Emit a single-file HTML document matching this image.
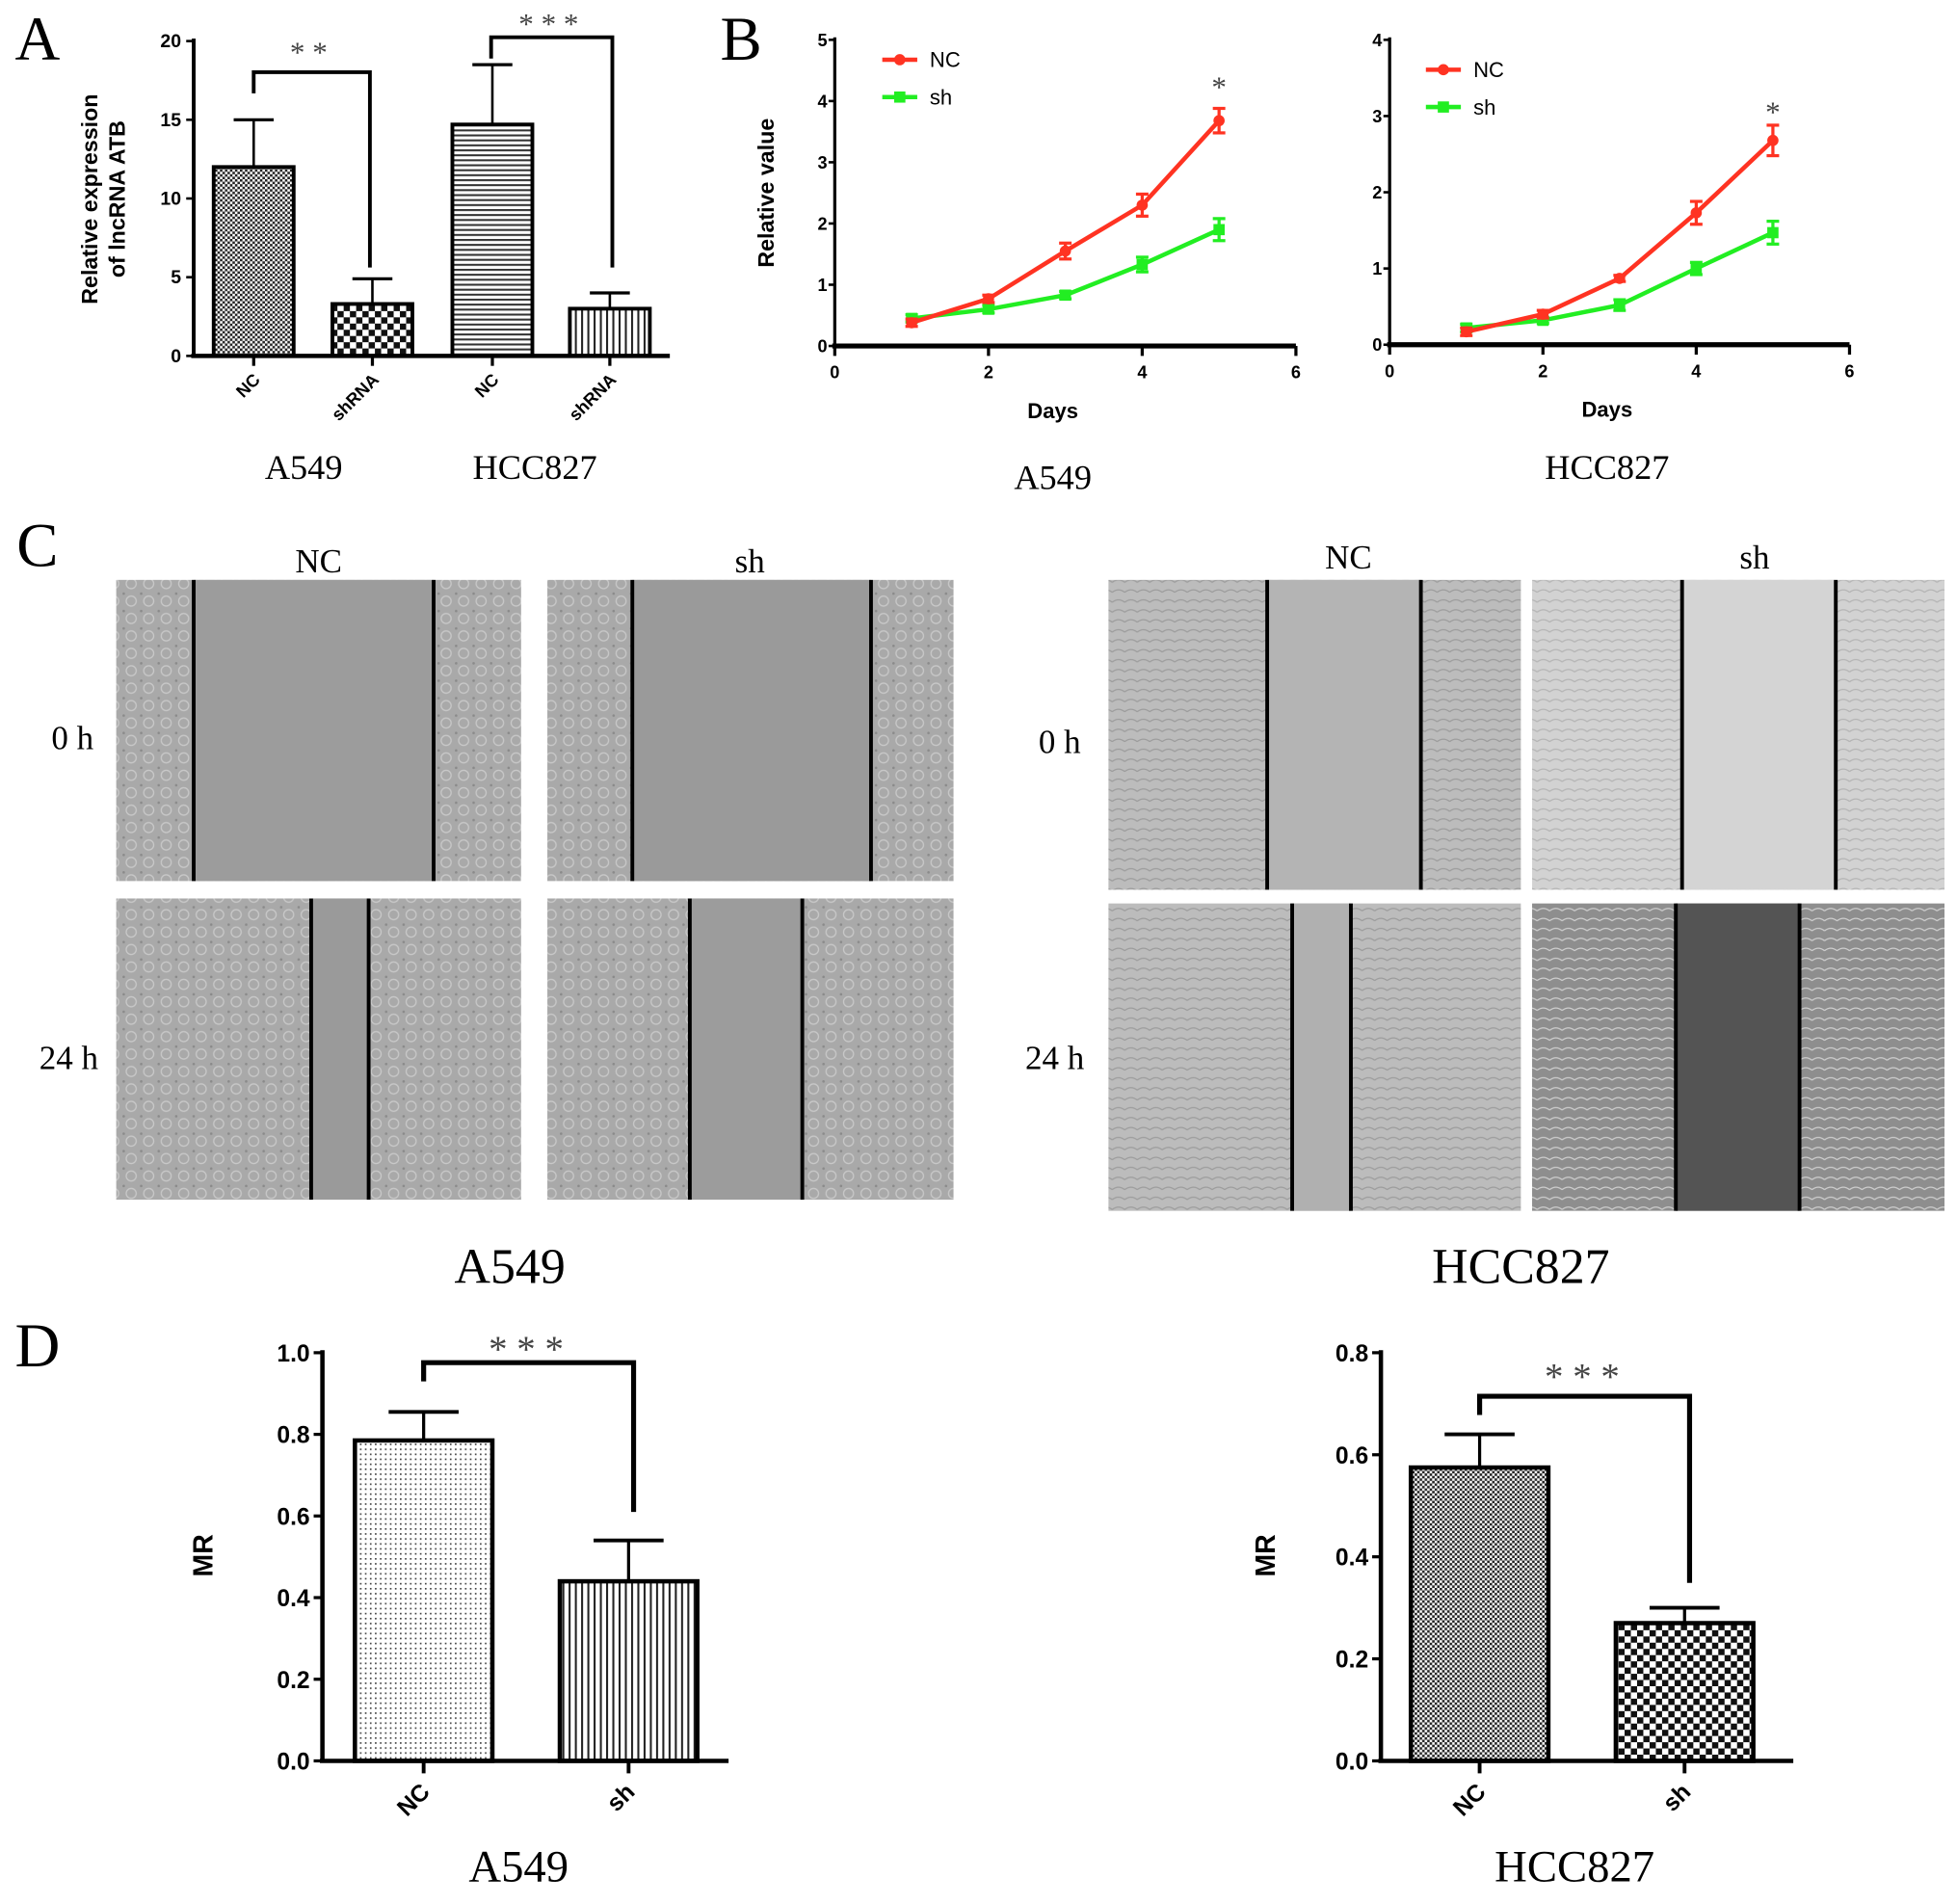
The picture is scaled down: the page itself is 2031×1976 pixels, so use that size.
<!DOCTYPE html>
<html><head><meta charset="utf-8"><style>
html,body{margin:0;padding:0;background:#fff;}
svg{display:block;}
text{font-family:"Liberation Sans",sans-serif;}
.serif{font-family:"Liberation Serif",serif;}
</style></head><body>
<svg id="fig" width="2031" height="1976" viewBox="0 0 1566 1530" preserveAspectRatio="none" xmlns="http://www.w3.org/2000/svg">
<defs>
<pattern id="pDense" width="4" height="4" patternUnits="userSpaceOnUse"><rect width="4" height="4" fill="#fff"/><rect width="2" height="2" fill="#222"/><rect x="2" y="2" width="2" height="2" fill="#222"/></pattern>
<pattern id="pCoarse" width="10" height="10" patternUnits="userSpaceOnUse"><rect width="10" height="10" fill="#fff"/><rect width="5" height="5" fill="#111"/><rect x="5" y="5" width="5" height="5" fill="#111"/></pattern>
<pattern id="pHoriz" width="4" height="4" patternUnits="userSpaceOnUse"><rect width="4" height="4" fill="#fff"/><rect width="4" height="1.6" fill="#333"/></pattern>
<pattern id="pVert" width="5" height="5" patternUnits="userSpaceOnUse"><rect width="5" height="5" fill="#fff"/><rect width="1.6" height="5" fill="#222"/></pattern>
<pattern id="pDots" width="4" height="4" patternUnits="userSpaceOnUse"><rect width="4" height="4" fill="#fff"/><rect width="1.3" height="1.3" fill="#444"/></pattern>
<pattern id="cellsA" width="14" height="14" patternUnits="userSpaceOnUse"><rect width="14" height="14" fill="#a9a9a9"/><circle cx="7" cy="7" r="4" fill="none" stroke="#c8c8c8" stroke-width="1"/><circle cx="1" cy="1" r="1" fill="#8a8a8a"/></pattern>
<pattern id="cellsH" width="10" height="8" patternUnits="userSpaceOnUse"><rect width="10" height="8" fill="#bcbcbc"/><path d="M0 4 Q5 0 10 4" fill="none" stroke="#9c9c9c" stroke-width="1"/></pattern>
<pattern id="cellsH2" width="10" height="8" patternUnits="userSpaceOnUse"><rect width="10" height="8" fill="#d2d2d2"/><path d="M0 4 Q5 0 10 4" fill="none" stroke="#b4b4b4" stroke-width="1"/></pattern>
<pattern id="cellsH3" width="10" height="8" patternUnits="userSpaceOnUse"><rect width="10" height="8" fill="#8e8e8e"/><path d="M0 4 Q5 0 10 4" fill="none" stroke="#cfcfcf" stroke-width="1"/></pattern>
</defs>
<g id="root"></g>
</svg>
<script>
// Panel A data
const aCats = ["NC","shRNA","NC","shRNA"];
const aVals = [12, 3.3, 14.7, 3.0];
const aErrs = [3.0, 1.6, 3.8, 1.0];
const aTicks = [0,5,10,15,20];
// Panel B data
const bDays = [1,2,3,4,5];
const bTicksX = [0,2,4,6];
const bA549NC = [0.38,0.77,1.55,2.3,3.68];
const bA549NCerr = [0.06,0.06,0.13,0.18,0.2];
const bA549sh = [0.45,0.6,0.83,1.33,1.9];
const bA549sherr = [0.06,0.06,0.06,0.12,0.18];
const bA549Ticks = [0,1,2,3,4,5];
const bHCCNC = [0.17,0.4,0.87,1.73,2.68];
const bHCCNCerr = [0.05,0.05,0.04,0.15,0.2];
const bHCCsh = [0.22,0.32,0.52,1.0,1.47];
const bHCCsherr = [0.05,0.04,0.07,0.08,0.15];
const bHCCTicks = [0,1,2,3,4];
// Panel D data
const dCats = ["NC","sh"];
const dA549Vals = [0.785,0.44];
const dA549Errs = [0.07,0.10];
const dA549Ticks = [0.0,0.2,0.4,0.6,0.8,1.0];
const dHCCVals = [0.575,0.27];
const dHCCErrs = [0.065,0.03];
const dHCCTicks = [0.0,0.2,0.4,0.6,0.8];

const NS="http://www.w3.org/2000/svg";
const root=document.getElementById('root');
function mk(tag,attrs,parent){const e=document.createElementNS(NS,tag);for(const k in attrs)e.setAttribute(k,attrs[k]);(parent||root).appendChild(e);return e;}
function txt(s,x,y,size,attrs,parent){const t=mk('text',Object.assign({x:x,y:y,'font-size':size,'text-anchor':'middle'},attrs||{}),parent);t.textContent=s;return t;}
function line(x1,y1,x2,y2,w,c,parent){return mk('line',{x1:x1,y1:y1,x2:x2,y2:y2,stroke:c||'#000','stroke-width':w||2},parent);}

// ---------- Panel A ----------
(function(){
  const g=mk('g',{});
  
  
  const x0=155,x1=536,yb=286,yt=33,max=20;
  const y=v=>yb-(v/max)*(yb-yt);
  const centers=[203,298,394,488];
  const fills=['url(#pDense)','url(#pCoarse)','url(#pHoriz)','url(#pVert)'];
  aTicks.forEach(t=>{line(x0-6,y(t),x0,y(t),2,'#000',g);const l=txt(String(t),x0-10,y(t)+5,15,{'text-anchor':'end','font-weight':'bold'},g);});
  aVals.forEach((v,i)=>{
    const cx=centers[i];
    line(cx,y(v),cx,y(v+aErrs[i]),2,'#000',g);
    line(cx-16,y(v+aErrs[i]),cx+16,y(v+aErrs[i]),2.5,'#000',g);
    const r=mk('rect',{x:cx-32,y:y(v),width:64,height:yb-y(v),fill:fills[i],stroke:'#000','stroke-width':3},g);
    
    line(cx,yb,cx,yb+8,2.5,'#000',g);
    const l=txt(aCats[i],cx+6,yb+20,14,{'text-anchor':'end','font-weight':'bold',transform:`rotate(-45 ${cx+6} ${yb+20})`},g);
    
  });
  line(x0,yt-2,x0,yb+1,3,'#000',g);
  line(x0-2,yb,x1,yb,3.5,'#000',g);
  mk('path',{d:`M203 75 V58 H296 V215`,fill:'none',stroke:'#000','stroke-width':3},g);
  mk('path',{d:`M393 47 V30 H490 V215`,fill:'none',stroke:'#000','stroke-width':3},g);
  txt('* *',247,50,24,{'class':'serif',fill:'#444'},g);
  txt('* * *',439,27,24,{'class':'serif',fill:'#444'},g);
  const yl=mk('text',{transform:'translate(78 160) rotate(-90)','font-size':18,'font-weight':'bold','text-anchor':'middle'},g);
  
  const ts1=mk('tspan',{x:0,dy:0},yl);ts1.textContent='Relative expression';
  const ts2=mk('tspan',{x:0,dy:22},yl);ts2.textContent='of lncRNA ATB';
  const c1=txt('A549',243,385,28,{'class':'serif'},g);
  const c2=txt('HCC827',428,385,28,{'class':'serif'},g);
})();

// ---------- Panel B ----------
function lineChart(name,x0,x1,yb,yt,ticks,nc,ncErr,sh,shErr,leg,star,title,titleY){
  const g=mk('g',{});
  
  
  const max=ticks[ticks.length-1];
  const x=d=>x0+(d/6)*(x1-x0);
  const y=v=>yb-(v/max)*(yb-yt);
  ticks.forEach(t=>{line(x0-5,y(t),x0,y(t),2,'#000',g);txt(String(t),x0-6,y(t)+5,14,{'text-anchor':'end','font-weight':'bold'},g);});
  bTicksX.forEach(t=>{line(x(t),yb,x(t),yb+8,2.5,'#000',g);txt(String(t),x(t),yb+26,14,{'font-weight':'bold'},g);});
  line(x0,yt-2,x0,yb,2.5,'#000',g);
  line(x0-2,yb,x1,yb,4,'#000',g);
  [[sh,shErr,'#22ee22','sh'],[nc,ncErr,'#ff3322','nc']].forEach(([vals,errs,col,nm])=>{
    const pts=bDays.map((d,i)=>x(d)+','+y(vals[i])).join(' ');
    const pl=mk('polyline',{points:pts,fill:'none',stroke:col,'stroke-width':3.5},g);
    
    bDays.forEach((d,i)=>{
      const cx=x(d),v=vals[i],e=errs[i];
      line(cx,y(v-e),cx,y(v+e),2.5,col,g);
      line(cx-5,y(v-e),cx+5,y(v-e),2.5,col,g);
      line(cx-5,y(v+e),cx+5,y(v+e),2.5,col,g);
      const p=nm==='nc'?mk('circle',{cx:cx,cy:y(v),r:4.5,fill:col},g):mk('rect',{x:cx-4.5,y:y(v)-4.5,width:9,height:9,fill:col},g);
      
    });
  });
  const lg=mk('g',{},g);
  line(leg[0],leg[1],leg[0]+28,leg[1],3.5,'#ff3322',lg);mk('circle',{cx:leg[0]+14,cy:leg[1],r:4.5,fill:'#ff3322'},lg);
  txt('NC',leg[0]+38,leg[1]+6,17,{'text-anchor':'start'},lg);
  line(leg[0],leg[1]+30,leg[0]+28,leg[1]+30,3.5,'#22ee22',lg);mk('rect',{x:leg[0]+9.5,y:leg[1]+25.5,width:9,height:9,fill:'#22ee22'},lg);
  txt('sh',leg[0]+38,leg[1]+36,17,{'text-anchor':'start'},lg);
  txt('*',x(5),star,24,{'class':'serif',fill:'#444'},g);
  const dl=txt('Days',(x0+x1)/2-10,yb+58,17,{'font-weight':'bold'},g);
  txt(title,(x0+x1)/2-10,titleY,28,{'class':'serif'},g);
  return g;
}
lineChart('b-a549-chart',668,1037,278,32,bA549Ticks,bA549NC,bA549NCerr,bA549sh,bA549sherr,[706,48],78,'A549',393);
lineChart('b-hcc827-chart',1112,1480,277,32,bHCCTicks,bHCCNC,bHCCNCerr,bHCCsh,bHCCsherr,[1141,56],98,'HCC827',385);
(function(){const yl=txt('Relative value',619,155,18,{'font-weight':'bold',transform:'rotate(-90 619 155)'});})();

// ---------- Panel C (images) ----------
function micro(name,x,y,w,h,fill,gapFill,l1,l2){
  const g=mk('g',{});
  mk('rect',{x:x,y:y,width:w,height:h,fill:fill},g);
  mk('rect',{x:l1,y:y,width:l2-l1,height:h,fill:gapFill},g);
  line(l1,y,l1,y+h,3,'#000',g);line(l2,y,l2,y+h,3,'#000',g);
}
micro('c-a549-nc-0h',93,466,324,242,'url(#cellsA)','#9c9c9c',155,347);
micro('c-a549-sh-0h',438,466,325,242,'url(#cellsA)','#9a9a9a',506,697);
micro('c-a549-nc-24h',93,722,324,242,'url(#cellsA)','#9a9a9a',249,295);
micro('c-a549-sh-24h',438,722,325,242,'url(#cellsA)','#9c9c9c',552,642);
micro('c-hcc-nc-0h',887,466,330,249,'url(#cellsH)','#b4b4b4',1014,1137);
micro('c-hcc-sh-0h',1226,466,330,249,'url(#cellsH2)','#d4d4d4',1346,1469);
micro('c-hcc-nc-24h',887,726,330,247,'url(#cellsH)','#b0b0b0',1034,1081);
micro('c-hcc-sh-24h',1226,726,330,247,'url(#cellsH3)','#545454',1341,1440);
[['NC',255,460],['sh',600,460],['NC',1079,457],['sh',1404,457],['0 h',58,602],['24 h',55,859],['0 h',848,605],['24 h',844,859]].forEach(a=>{const t=txt(a[0],a[1],a[2],27,{'class':'serif'});});
txt('A549',408,1031,40,{'class':'serif'});
txt('HCC827',1217,1031,40,{'class':'serif'});

// ---------- Panel D ----------
function barChart(name,x0,x1,yb,yt,ticks,vals,errs,fills,centers,bracketY,leftDrop,rightDrop,starY,mrX,title){
  const g=mk('g',{});
  const max=ticks[ticks.length-1];
  const y=v=>yb-(v/max)*(yb-yt);
  ticks.forEach(t=>{line(x0-7,y(t),x0,y(t),2.5,'#000',g);txt(t.toFixed(1),x0-10,y(t)+7,19,{'text-anchor':'end','font-weight':'bold'},g);});
  vals.forEach((v,i)=>{
    const cx=centers[i];
    line(cx,y(v),cx,y(v+errs[i]),2.5,'#000',g);
    line(cx-28,y(v+errs[i]),cx+28,y(v+errs[i]),3,'#000',g);
    const r=mk('rect',{x:cx-55,y:y(v),width:110,height:yb-y(v),fill:fills[i],stroke:'#000','stroke-width':3.5},g);
    
    line(cx,yb,cx,yb+10,3,'#000',g);
    txt(dCats[i],cx+6,yb+26,19,{'text-anchor':'end','font-weight':'bold',transform:`rotate(-45 ${cx+6} ${yb+26})`},g);
  });
  line(x0,yt-2,x0,yb+1,3.5,'#000',g);
  line(x0-2,yb,x1,yb,3.5,'#000',g);
  mk('path',{d:`M${centers[0]} ${leftDrop} V${bracketY} H${centers[1]+4} V${rightDrop}`,fill:'none',stroke:'#000','stroke-width':4},g);
  txt('* * *',(centers[0]+centers[1])/2,starY,30,{'class':'serif',fill:'#444'},g);
  const ml=txt('MR',mrX,1250,22,{'font-weight':'bold',transform:`rotate(-90 ${mrX} 1250)`},g);
  txt(title,(centers[0]+centers[1])/2-6,1512,36,{'class':'serif'},g);
}
barChart('d-a549-chart',258,583,1415,1087,dA549Ticks,dA549Vals,dA549Errs,['url(#pDots)','url(#pVert)'],[339,503],1095,1110,1215,1094,170,'A549');
barChart('d-hcc827-chart',1105,1435,1415,1087,dHCCTicks,dHCCVals,dHCCErrs,['url(#pDense)','url(#pCoarse)'],[1184,1348],1122,1137,1272,1116,1020,'HCC827');

[['A',30,48],['B',593,48],['C',30,455],['D',30,1098]].forEach(a=>{const t=txt(a[0],a[1],a[2],50,{'class':'serif'});});
</script>
</body></html>
